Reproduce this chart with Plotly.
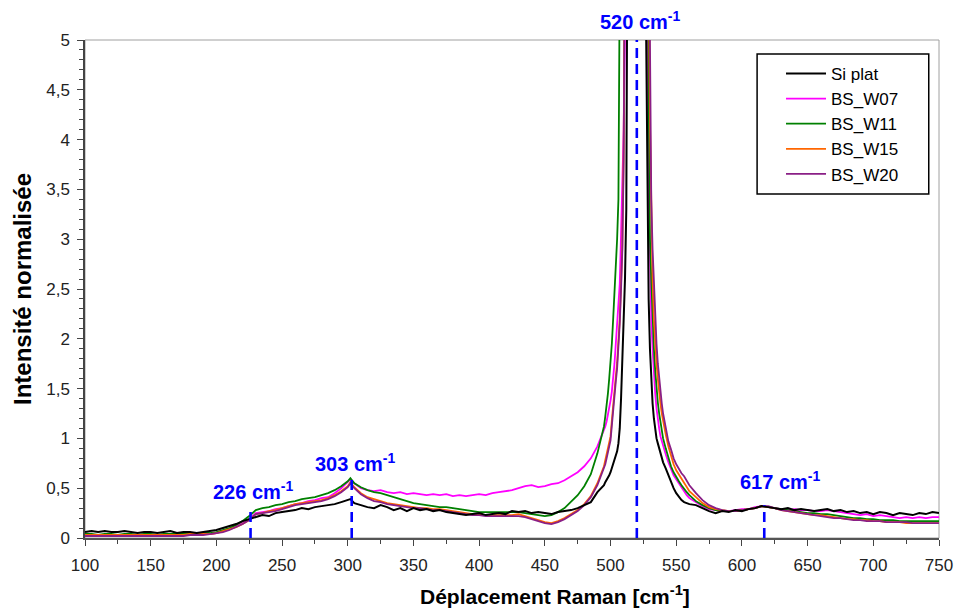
import plotly.graph_objects as go

# Raman shift sampling (cm-1)
raman_shift = (list(range(100, 300, 5)) + [300, 302, 305] + list(range(310, 500, 5))
               + list(range(496, 541)) + list(range(542, 561, 2)) + list(range(565, 751, 5)))

si_plat = [0.06,0.07,0.06,0.07,0.06,0.06,0.07,0.06,0.05,0.06, 0.06,0.05,0.06,0.07,0.05,0.06,0.06,0.05,0.06,0.07,
           0.08,0.10,0.12,0.14,0.17,0.19,0.21,0.23,0.22,0.25, 0.26,0.27,0.28,0.30,0.29,0.31,0.32,0.33,0.34,0.36,
           0.38,0.39,0.35,
           0.33,0.31,0.30,0.33,0.31, 0.28,0.30,0.27,0.30,0.28, 0.29,0.27,0.28,0.26,0.25, 0.24,0.23,0.24,0.25,0.23,
           0.24,0.25,0.24,0.27,0.26, 0.27,0.25,0.26,0.25,0.24, 0.26,0.27,0.28,0.30,0.33, 0.36,0.46,0.53,
           0.56,0.58,0.60,0.63,0.66, 0.70,0.74,0.78,0.82,0.87, 0.95,1.10,1.40,1.80,2.20, 2.60,3.30,4.60,7.0,10.0,
           14.0,19.0,24.0,28.0,30.0, 28.0,24.0,19.0,14.0,10.0, 7.0,5.2,3.3,2.4,1.9, 1.55,1.35,1.20,1.08,1.00,
           0.95,0.90,0.85,0.80,0.76,
           0.70,0.63,0.56,0.50,0.45,0.41,0.38,0.36,0.35,0.34,
           0.33,0.30,0.27,0.25,0.27, 0.26,0.28,0.27,0.29,0.30, 0.32,0.31,0.30,0.29,0.30, 0.28,0.29,0.28,0.27,0.28,
           0.29,0.27,0.28,0.26,0.27, 0.25,0.26,0.24,0.26,0.25, 0.23,0.25,0.24,0.23,0.25, 0.24,0.26,0.25]

bs_w07 = [0.02,0.03,0.02,0.02,0.03,0.02,0.02,0.02,0.03,0.02, 0.02,0.03,0.02,0.02,0.02,0.03,0.03,0.03,0.04,0.04,
          0.05,0.07,0.09,0.12,0.15,0.19,0.25,0.26,0.27,0.29, 0.30,0.32,0.34,0.35,0.37,0.38,0.40,0.41,0.45,0.50,
          0.56,0.59,0.55,
          0.50,0.48,0.47,0.48,0.46, 0.45,0.46,0.44,0.45,0.44, 0.43,0.44,0.43,0.44,0.42, 0.43,0.42,0.43,0.44,0.43,
          0.45,0.46,0.47,0.48,0.50, 0.52,0.53,0.51,0.52,0.54, 0.55,0.58,0.62,0.66,0.72, 0.80,0.92,1.08,
          1.12,1.17,1.23,1.30,1.38, 1.47,1.58,1.75,1.95,2.15, 2.30,2.55,3.05,3.50,4.10, 5.10,7.0,10.0,14.0,18.0,
          22.0,26.0,29.0,31.0,32.0, 31.0,28.0,24.0,19.0,15.0, 11.0,8.0,5.5,3.5,2.7, 2.2,1.9,1.65,1.45,1.30,
          1.18,1.10,1.02,0.97,0.93,
          0.84,0.76,0.69,0.63,0.59,0.55,0.50,0.46,0.43,0.40,
          0.36,0.32,0.29,0.28,0.27, 0.27,0.28,0.29,0.29,0.31, 0.32,0.31,0.30,0.29,0.28, 0.29,0.28,0.28,0.27,0.27,
          0.28,0.27,0.26,0.25,0.24, 0.23,0.24,0.22,0.23,0.22, 0.21,0.20,0.21,0.20,0.21, 0.20,0.21,0.21]

bs_w11 = [0.04,0.04,0.03,0.04,0.04,0.03,0.04,0.04,0.03,0.04, 0.04,0.03,0.04,0.04,0.04,0.04,0.04,0.05,0.05,0.05,
          0.06,0.08,0.10,0.13,0.17,0.22,0.28,0.30,0.31,0.33, 0.34,0.36,0.37,0.39,0.40,0.41,0.43,0.45,0.48,0.52,
          0.57,0.60,0.55,
          0.51,0.48,0.46,0.45,0.43, 0.41,0.39,0.37,0.35,0.34, 0.33,0.32,0.31,0.31,0.30, 0.29,0.28,0.27,0.26,0.26,
          0.26,0.26,0.26,0.26,0.26, 0.25,0.24,0.23,0.22,0.23, 0.26,0.30,0.36,0.43,0.52, 0.64,0.85,1.12,
          1.22,1.32,1.45,1.60,1.75, 1.95,2.20,2.45,2.70,3.00, 3.40,4.10,5.00,6.50,9.0, 12.0,16.0,20.0,24.0,27.0,
          29.0,30.0,30.0,29.0,28.0, 26.0,23.0,20.0,17.0,14.0, 11.0,9.0,7.0,4.5,3.0, 2.6,2.2,1.9,1.68,1.50,
          1.36,1.25,1.15,1.07,1.00,
          0.90,0.80,0.72,0.66,0.61,0.57,0.53,0.49,0.46,0.43,
          0.37,0.33,0.30,0.28,0.27, 0.27,0.27,0.28,0.29,0.30, 0.32,0.31,0.30,0.29,0.28, 0.27,0.26,0.25,0.25,0.24,
          0.24,0.23,0.22,0.21,0.20, 0.20,0.19,0.19,0.18,0.18, 0.18,0.17,0.17,0.17,0.17, 0.17,0.17,0.17]

bs_w15 = [0.03,0.03,0.03,0.03,0.03,0.03,0.03,0.03,0.03,0.03, 0.03,0.03,0.03,0.03,0.03,0.03,0.04,0.04,0.04,0.04,
          0.05,0.07,0.09,0.11,0.14,0.18,0.24,0.25,0.27,0.28, 0.30,0.32,0.34,0.35,0.36,0.37,0.38,0.40,0.43,0.47,
          0.52,0.56,0.51,
          0.45,0.41,0.39,0.37,0.35, 0.34,0.33,0.32,0.31,0.30, 0.30,0.29,0.29,0.28,0.27, 0.26,0.25,0.24,0.24,0.23,
          0.23,0.23,0.23,0.23,0.24, 0.22,0.20,0.18,0.16,0.15, 0.17,0.20,0.24,0.28,0.34, 0.42,0.55,0.72,
          0.78,0.84,0.90,0.96,1.02, 1.18,1.36,1.50,1.62,1.76, 1.95,2.20,2.55,2.95,3.90, 5.10,7.0,10.0,14.0,18.0,
          22.0,26.0,29.0,31.0,32.0, 31.0,29.0,26.0,22.0,18.0, 14.0,11.0,8.0,6.0,4.2, 3.3,2.6,2.2,1.95,1.75,
          1.60,1.45,1.35,1.25,1.17,
          1.04,0.92,0.82,0.74,0.68,0.64,0.60,0.55,0.51,0.47,
          0.41,0.35,0.31,0.29,0.28, 0.27,0.27,0.28,0.29,0.30, 0.32,0.31,0.30,0.28,0.27, 0.26,0.25,0.24,0.23,0.23,
          0.22,0.21,0.20,0.19,0.19, 0.18,0.18,0.17,0.17,0.16, 0.16,0.16,0.15,0.15,0.15, 0.15,0.15,0.15]

bs_w20 = [0.02,0.02,0.02,0.02,0.02,0.02,0.02,0.02,0.02,0.02, 0.02,0.02,0.02,0.02,0.02,0.02,0.03,0.03,0.03,0.04,
          0.05,0.06,0.08,0.11,0.14,0.18,0.24,0.25,0.26,0.27, 0.29,0.31,0.33,0.34,0.35,0.36,0.37,0.39,0.42,0.46,
          0.51,0.55,0.50,
          0.44,0.40,0.37,0.36,0.34, 0.33,0.32,0.31,0.30,0.30, 0.29,0.28,0.28,0.27,0.26, 0.25,0.24,0.23,0.23,0.22,
          0.22,0.22,0.22,0.22,0.22, 0.21,0.19,0.17,0.15,0.14, 0.16,0.19,0.23,0.27,0.33, 0.41,0.53,0.69,
          0.74,0.80,0.86,0.92,0.98, 1.13,1.30,1.44,1.57,1.70, 1.90,2.15,2.50,2.90,3.80, 5.00,7.0,10.0,14.0,18.0,
          22.0,26.0,29.0,31.0,32.0, 31.0,29.0,26.0,22.0,18.0, 14.0,11.0,8.0,6.5,5.0, 3.4,2.9,2.55,2.2,1.95,
          1.75,1.60,1.45,1.35,1.25,
          1.10,0.97,0.89,0.80,0.74,0.69,0.65,0.62,0.58,0.53,
          0.45,0.38,0.33,0.30,0.28, 0.27,0.27,0.28,0.29,0.30, 0.32,0.32,0.30,0.28,0.27, 0.26,0.25,0.24,0.23,0.22,
          0.21,0.20,0.20,0.19,0.18, 0.18,0.17,0.17,0.17,0.16, 0.16,0.16,0.16,0.15,0.15, 0.15,0.15,0.15]

series_names = ["Si plat", "BS_W07", "BS_W11", "BS_W15", "BS_W20"]
series_colors = ["#000000", "#FF00FF", "#008000", "#FF6600", "#8A1F86"]

# marked Raman bands
band_positions = [226, 303, 520, 617]
band_line_tops = [0.28, 0.62, 5.0, 0.33]
band_labels = ["226 cm<sup>-1</sup>", "303 cm<sup>-1</sup>", "520 cm<sup>-1</sup>", "617 cm<sup>-1</sup>"]
label_x = [228, 306, 523, 629]
label_y = [0.48, 0.76, 1.040, 0.58]
label_yref = ["y", "y", "paper", "y"]

FONT = "Liberation Sans, Arial, sans-serif"
fig = go.Figure()

series_values = [si_plat, bs_w07, bs_w11, bs_w15, bs_w20]
draw_order = [1, 2, 3, 4, 0]
for i in draw_order:
    fig.add_trace(go.Scatter(
        x=raman_shift, y=series_values[i], mode="lines", name=series_names[i],
        line=dict(color=series_colors[i], width=2 if i == 0 else 1.8),
        legendrank=i + 1, legendgroup=series_names[i],
    ))

# plot frame (light gray top/right)
fig.add_shape(type="rect", xref="paper", yref="paper", x0=0, x1=1, y0=0, y1=1,
              line=dict(color="#A0A0A0", width=1), layer="below")

for pos, top in zip(band_positions, band_line_tops):
    fig.add_shape(type="line", xref="x", yref="y", x0=pos, x1=pos, y0=0, y1=top,
                  line=dict(color="#0000FF", width=2.6, dash="10px,6px"), layer="above")

for lx, ly, yr, txt in zip(label_x, label_y, label_yref, band_labels):
    fig.add_annotation(x=lx, y=ly, xref="x", yref=yr, text="<b>" + txt + "</b>",
                       showarrow=False, font=dict(family=FONT, size=20, color="#0000FF"),
                       xanchor="center", yanchor="middle")

# x-axis title (placed as in the reference, slightly right of centre)
fig.add_annotation(x=0.55, y=-0.114, xref="paper", yref="paper",
                   text="<b>Déplacement Raman [cm<sup>-1</sup>]</b>", showarrow=False,
                   font=dict(family=FONT, size=21, color="#000000"),
                   xanchor="center", yanchor="middle")

# legend frame
fig.add_shape(type="rect", xref="paper", yref="paper", x0=0.787, x1=0.988, y0=0.6908, y1=0.9719,
              line=dict(color="#000000", width=1.5), fillcolor="white", layer="below")

fig.update_layout(
    width=957, height=600,
    margin=dict(l=77, r=16, t=32, b=70),
    paper_bgcolor="white", plot_bgcolor="white",
    separators=",.",
    font=dict(family=FONT, size=17, color="#222222"),
    showlegend=True,
    legend=dict(x=0.815, y=0.968, xanchor="left", yanchor="top",
                bgcolor="rgba(0,0,0,0)", borderwidth=0, tracegroupgap=0,
                font=dict(family=FONT, size=17, color="#000000"), itemwidth=40),
    xaxis=dict(range=[100, 750], tick0=100, dtick=50, ticks="outside", ticklen=6, tickwidth=1,
               tickcolor="#444444", showgrid=False, zeroline=False, showline=True,
               linecolor="#555555", linewidth=1.5, ticklabelstandoff=5,
               minor=dict(dtick=25, ticks="outside", ticklen=4, tickcolor="#444444", showgrid=False),
               tickfont=dict(family=FONT, size=17, color="#222222")),
    yaxis=dict(range=[0, 5], tick0=0, dtick=0.5, ticks="outside", ticklen=6, tickwidth=1,
               tickcolor="#444444", showgrid=False, zeroline=False, showline=True,
               linecolor="#444444", linewidth=1.5, ticklabelstandoff=4,
               minor=dict(dtick=0.1, ticks="outside", ticklen=4, tickcolor="#444444", showgrid=False),
               tickfont=dict(family=FONT, size=17, color="#222222"),
               title=dict(text="<b>Intensité normalisée</b>", standoff=8,
                          font=dict(family=FONT, size=24, color="#000000"))),
)

fig.write_html("out.html", config={"displayModeBar": False})
